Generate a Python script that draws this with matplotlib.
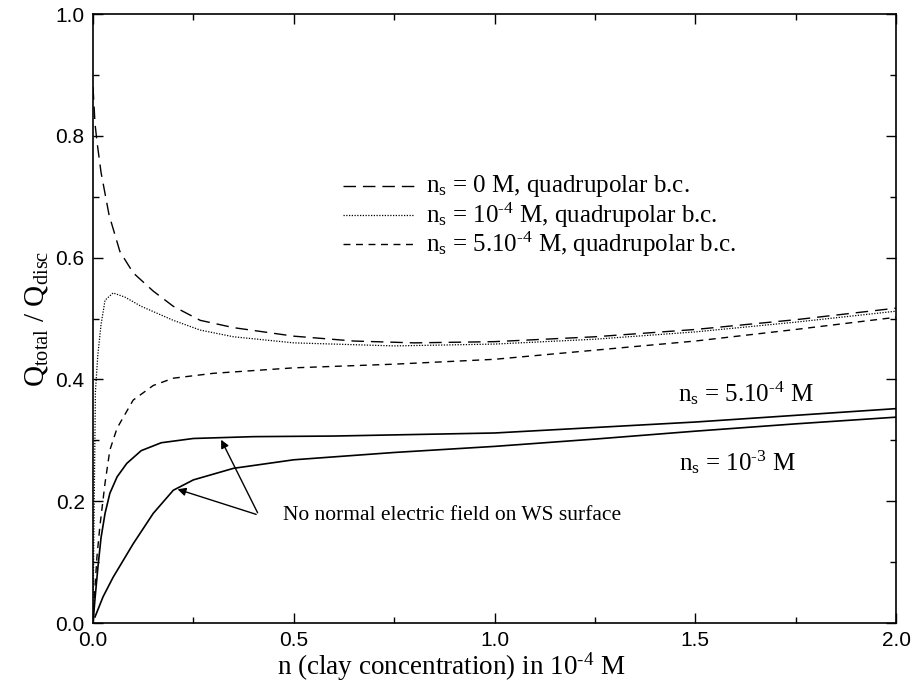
import matplotlib
matplotlib.use("Agg")
import matplotlib.pyplot as plt

plt.rcParams['mathtext.fontset'] = 'custom'
plt.rcParams['mathtext.rm'] = 'Liberation Serif'
plt.rcParams['mathtext.it'] = 'Liberation Serif:italic'

# ns = 0 M, quadrupolar b.c. (long dash)
x_ns0 = [0.0, 0.005, 0.01, 0.02, 0.04, 0.067, 0.1, 0.15, 0.2, 0.267, 0.35, 0.5, 0.65, 0.8, 1.0, 1.25, 1.5, 1.75, 2.0]
y_ns0 = [0.88, 0.82, 0.79, 0.74, 0.67, 0.61, 0.575, 0.545, 0.52, 0.497, 0.485, 0.471, 0.463, 0.46, 0.462, 0.47, 0.482, 0.498, 0.517]

# ns = 1e-4 M, quadrupolar b.c. (dotted)
x_ns1 = [0.0, 0.003, 0.006, 0.012, 0.02, 0.03, 0.05, 0.08, 0.12, 0.2, 0.267, 0.35, 0.5, 0.75, 1.0, 1.25, 1.5, 1.75, 2.0]
y_ns1 = [0.0, 0.2, 0.38, 0.44, 0.49, 0.53, 0.542, 0.535, 0.52, 0.497, 0.481, 0.47, 0.46, 0.455, 0.458, 0.466, 0.478, 0.494, 0.512]

# ns = 5e-4 M, quadrupolar b.c. (short dash)
x_ns5 = [0.0, 0.005, 0.01, 0.017, 0.03, 0.042, 0.06, 0.1, 0.15, 0.2, 0.3, 0.5, 0.75, 1.0, 1.25, 1.5, 1.75, 2.0]
y_ns5 = [0.0, 0.06, 0.11, 0.158, 0.23, 0.284, 0.32, 0.366, 0.39, 0.402, 0.41, 0.419, 0.425, 0.433, 0.448, 0.463, 0.482, 0.502]

# ns = 5e-4 M, no normal field (solid, upper)
x_s5 = [0.0, 0.005, 0.012, 0.02, 0.03, 0.042, 0.06, 0.084, 0.12, 0.17, 0.25, 0.4, 0.6, 1.0, 1.5, 2.0]
y_s5 = [0.0, 0.04, 0.09, 0.14, 0.18, 0.213, 0.24, 0.262, 0.283, 0.296, 0.303, 0.306, 0.307, 0.312, 0.33, 0.352]

# ns = 1e-3 M, no normal field (solid, lower)
x_s10 = [0.005, 0.025, 0.05, 0.1, 0.15, 0.2, 0.25, 0.35, 0.5, 0.75, 1.0, 1.25, 1.5, 1.75, 2.0]
y_s10 = [0.01, 0.043, 0.075, 0.13, 0.18, 0.218, 0.235, 0.254, 0.268, 0.28, 0.29, 0.302, 0.315, 0.327, 0.338]

x_ticks = [0.0, 0.5, 1.0, 1.5, 2.0]
y_ticks = [0.0, 0.2, 0.4, 0.6, 0.8, 1.0]

fig = plt.figure(figsize=(9.19, 6.9), dpi=100)
ax = fig.add_axes([0.1012, 0.0971, 0.8738, 0.8826])

lw = 1.0
ax.plot(x_ns0, y_ns0, color='black', lw=lw, dashes=(9, 5))
ax.plot(x_ns1, y_ns1, color='black', lw=0.9, dashes=(1, 1.2))
ax.plot(x_ns5, y_ns5, color='black', lw=lw, dashes=(5, 4))
ax.plot(x_s5, y_s5, color='black', lw=1.2)
ax.plot(x_s10, y_s10, color='black', lw=1.2)

ax.set_xlim(0, 2.0)
ax.set_ylim(0, 1.0)
ax.set_xticks(x_ticks)
ax.set_yticks(y_ticks)
ax.set_xticklabels([f"{v:.1f}" for v in x_ticks])
ax.set_yticklabels([f"{v:.1f}" for v in y_ticks])
ax.set_xticks([0.25, 0.75, 1.25, 1.75], minor=True)
ax.set_yticks([0.1, 0.3, 0.5, 0.7, 0.9], minor=True)
ax.tick_params(which='both', direction='in', top=True, right=True, labelsize=15, pad=6)
ax.tick_params(which='major', length=7, width=1)
ax.tick_params(which='minor', length=4, width=1)
for lab in ax.get_xticklabels() + ax.get_yticklabels():
    lab.set_family('Liberation Sans')
for s in ax.spines.values():
    s.set_linewidth(1.2)

serif = 'Liberation Serif'
ax.set_xlabel(r"n (clay concentration) in 10$^{\text{-4}}$ M", family=serif, fontsize=19.5, labelpad=2)
ax.xaxis.set_label_coords(0.446, -0.045, transform=ax.transAxes)
ax.xaxis.label.set_va('top')
ax.set_ylabel(r"Q$_{\mathregular{total}}$ / Q$_{\mathregular{disc}}$", family=serif, fontsize=21, labelpad=4)

# Legend (drawn manually as in the original)
leg_labels = [r"n$_{\mathregular{s}}$ = 0 M, quadrupolar b.c.",
              r"n$_{\mathregular{s}}$ = 10$^{\text{-4}}$ M, quadrupolar b.c.",
              r"n$_{\mathregular{s}}$ = 5.10$^{\text{-4}}$ M, quadrupolar b.c."]
leg_styles = [dict(dashes=(9, 5), lw=1.0), dict(dashes=(1, 1.2), lw=0.9), dict(dashes=(5, 4), lw=1.0)]
leg_y = [0.718, 0.670, 0.622]
for lab, st, yy in zip(leg_labels, leg_styles, leg_y):
    ax.plot([0.623, 0.80], [yy, yy], color='black', **st)
    ax.text(0.83, yy, lab, family=serif, fontsize=18, va='center', ha='left')

ax.text(1.625, 0.378, r"n$_{\mathregular{s}}$ = 5.10$^{\text{-4}}$ M", family=serif, fontsize=18, ha='center', va='center')
ax.text(1.605, 0.265, r"n$_{\mathregular{s}}$ = 10$^{\text{-3}}$ M", family=serif, fontsize=18, ha='center', va='center')

ax.text(0.473, 0.177, "No normal electric field on WS surface", family=serif, fontsize=15.5, ha='left', va='center')
for tgt in [(0.204, 0.221), (0.316, 0.305)]:
    ax.annotate("", xy=tgt, xytext=(0.413, 0.177),
                arrowprops=dict(arrowstyle='-|>', color='black', lw=1.0, mutation_scale=12))

fig.savefig("out.png", dpi=100)
